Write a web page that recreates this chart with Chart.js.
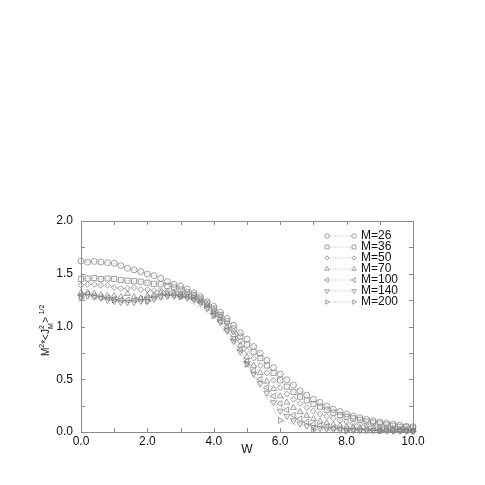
<!DOCTYPE html>
<html>
<head>
<meta charset="utf-8">
<script src="https://cdn.jsdelivr.net/npm/chart.js@4/dist/chart.umd.min.js"></script>
<style>
html,body{margin:0;padding:0;background:#fff;}
canvas{display:block;}
</style>
</head>
<body>
<canvas id="c" width="485" height="485"></canvas>
<script>
// ---- data ----
const W = [0,0.2,0.4,0.6,0.8,1.0,1.2,1.4,1.6,1.8,2.0,2.2,2.4,2.6,2.8,3.0,3.2,3.4,3.6,3.8,4.0,4.2,4.4,4.6,4.8,5.0,
           5.2,5.4,5.6,5.8,6.0,6.2,6.4,6.6,6.8,7.0,7.2,7.4,7.6,7.8,8.0,8.2,8.4,8.6,8.8,9.0,9.2,9.4,9.6,9.8,10.0];
const M26 = [1.62,1.61,1.617,1.611,1.604,1.599,1.577,1.551,1.536,1.52,1.498,1.482,1.457,1.425,1.40,1.384,1.355,1.32,1.283,1.235,1.19,1.135,1.075,1.01,0.94,0.88,
             0.81,0.745,0.68,0.61,0.55,0.495,0.445,0.39,0.35,0.31,0.28,0.245,0.215,0.195,0.17,0.15,0.135,0.12,0.105,0.095,0.085,0.075,0.065,0.055,0.05];
const M36 = [1.45,1.455,1.46,1.45,1.455,1.45,1.44,1.435,1.43,1.425,1.415,1.405,1.40,1.385,1.37,1.35,1.325,1.30,1.265,1.22,1.17,1.11,1.05,0.98,0.905,0.83,
             0.76,0.70,0.63,0.56,0.49,0.43,0.38,0.335,0.30,0.265,0.24,0.21,0.183,0.16,0.145,0.13,0.115,0.10,0.09,0.08,0.07,0.06,0.05,0.045,0.04];
const M50 = [1.39,1.40,1.40,1.39,1.39,1.37,1.36,1.36,1.37,1.35,1.35,1.34,1.34,1.33,1.33,1.32,1.31,1.29,1.255,1.21,1.16,1.10,1.03,0.95,0.86,0.77,
             0.70,0.63,0.56,0.49,0.42,0.36,0.31,0.27,0.23,0.20,0.17,0.15,0.13,0.11,0.095,0.08,0.07,0.06,0.05,0.045,0.04,0.035,0.03,0.025,0.02];
const M70 = [1.32,1.32,1.31,1.30,1.29,1.29,1.28,1.31,1.28,1.27,1.29,1.30,1.32,1.31,1.31,1.30,1.29,1.27,1.24,1.20,1.14,1.08,1.00,0.92,0.82,0.71,
             0.63,0.56,0.48,0.41,0.34,0.28,0.23,0.19,0.155,0.125,0.10,0.085,0.07,0.06,0.05,0.045,0.04,0.035,0.03,0.025,0.022,0.02,0.018,0.016,0.015];
const M100 = [1.30,1.31,1.29,1.28,1.27,1.26,1.25,1.25,1.25,1.26,1.27,1.28,1.29,1.30,1.30,1.29,1.28,1.26,1.23,1.18,1.12,1.05,0.97,0.88,0.78,0.67,
              0.58,0.50,0.42,0.34,0.27,0.21,0.16,0.125,0.095,0.075,0.06,0.05,0.04,0.035,0.03,0.025,0.022,0.02,0.018,0.016,0.014,0.013,0.012,0.011,0.01];
const M140 = [1.28,1.29,1.28,1.27,1.25,1.24,1.23,1.23,1.23,1.24,1.24,1.26,1.28,1.29,1.29,1.29,1.27,1.25,1.22,1.17,1.11,1.04,0.96,0.86,0.76,0.65,
              0.55,0.46,0.37,0.28,0.20,0.15,0.11,0.08,0.06,0.045,0.035,0.03,0.025,0.02,0.018,0.016,0.015,0.014,0.013,0.012,0.011,0.01,0.01,0.01,0.01];
const W200 = [0,1,2,3,4,5,6,7,8,9,10];
const M200 = [1.27,1.25,1.24,1.28,1.10,0.64,0.11,0.02,0.01,0.01,0.01];

const seriesLabels = ['M=26','M=36','M=50','M=70','M=100','M=140','M=200'];
const xTicks = [0,2,4,6,8,10];
const yTicks = [0,0.5,1.0,1.5,2.0];

// ---- styles ----
const markers = [
  {pointStyle:'circle', radius:3.0, rotation:0},
  {pointStyle:'rect', radius:3.6, rotation:0},
  {pointStyle:'rectRot', radius:2.9, rotation:0},
  {pointStyle:'triangle', radius:3.4, rotation:0},
  {pointStyle:'triangle', radius:3.4, rotation:-90},
  {pointStyle:'triangle', radius:3.4, rotation:180},
  {pointStyle:'triangle', radius:3.4, rotation:90}
];
const MARK = '#7a7a7a';
const LINE = '#9a9a9a';
const FONT = '"Liberation Sans", Arial, Helvetica, sans-serif';

function pts(xs, ys){ return xs.map((x,i)=>({x:x, y:ys[i]})); }
const allData = [pts(W,M26),pts(W,M36),pts(W,M50),pts(W,M70),pts(W,M100),pts(W,M140),pts(W200,M200)];

const datasets = allData.map((d,i)=>({
  label: seriesLabels[i],
  data: d,
  showLine: true,
  borderColor: LINE,
  borderWidth: 0.7,
  borderDash: [1,1.5],
  pointStyle: markers[i].pointStyle,
  pointRadius: markers[i].radius,
  pointRotation: markers[i].rotation,
  pointBorderColor: MARK,
  pointBackgroundColor: 'rgba(0,0,0,0)',
  pointBorderWidth: 0.7,
  clip: false,
  tension: 0
}));

const decor = {
  id:'decor',
  afterDraw(chart){
    const ctx = chart.ctx, a = chart.chartArea;
    const xs = chart.scales.x, ys = chart.scales.y;
    ctx.save();
    // frame
    ctx.strokeStyle = '#8a8a8a';
    ctx.lineWidth = 1;
    ctx.strokeRect(Math.round(a.left)+0.5, Math.round(a.top)+0.5, Math.round(a.right-a.left), Math.round(a.bottom-a.top));
    // inward ticks
    const tl = 4;
    ctx.beginPath();
    for (let v=0; v<=10; v+=1){
      const px = Math.round(xs.getPixelForValue(v))+0.5;
      ctx.moveTo(px, a.bottom); ctx.lineTo(px, a.bottom-tl);
      ctx.moveTo(px, a.top); ctx.lineTo(px, a.top+tl);
    }
    for (let k=0; k<=8; k++){
      const py = Math.round(ys.getPixelForValue(k*0.25))+0.5;
      ctx.moveTo(a.left, py); ctx.lineTo(a.left+tl, py);
      ctx.moveTo(a.right, py); ctx.lineTo(a.right-tl, py);
    }
    ctx.stroke();

    // legend
    const lx1 = a.left + 246, lx2 = a.left + 273, tx = a.left + 280;
    ctx.font = '12px ' + FONT;
    ctx.textBaseline = 'middle';
    ctx.textAlign = 'left';
    seriesLabels.forEach((lab,i)=>{
      const y = a.top + 15 + 11*i;
      ctx.save();
      ctx.strokeStyle = LINE; ctx.lineWidth = 0.7; ctx.setLineDash([1,1.5]);
      ctx.beginPath(); ctx.moveTo(lx1+3, y); ctx.lineTo(lx2-3, y); ctx.stroke();
      ctx.restore();
      ctx.save();
      ctx.strokeStyle = MARK; ctx.fillStyle = 'rgba(0,0,0,0)'; ctx.lineWidth = 0.7;
      const o = {pointStyle: markers[i].pointStyle, radius: markers[i].radius*0.75, rotation: markers[i].rotation, borderWidth: 0.7};
      Chart.helpers.drawPoint(ctx, o, lx1, y);
      Chart.helpers.drawPoint(ctx, o, lx2, y);
      ctx.restore();
      ctx.fillStyle = '#111';
      ctx.fillText(lab, tx, y);
    });

    // x title
    ctx.fillStyle = '#111';
    ctx.font = '12px ' + FONT;
    ctx.textAlign = 'center';
    ctx.textBaseline = 'middle';
    ctx.fillText('W', (a.left+a.right)/2, a.bottom + 18);

    // y title: M^2*<J_M^2>^{1/2}
    ctx.save();
    ctx.translate(48.5, 356);
    ctx.rotate(-Math.PI/2);
    ctx.textAlign = 'left';
    ctx.textBaseline = 'alphabetic';
    const big = '10px ' + FONT, small = '7px ' + FONT;
    let x = 0;
    function put(t, f, dy){ ctx.font = f; ctx.fillText(t, x, dy); return ctx.measureText(t).width; }
    x += put('M', big, 0);
    x += put('2', small, -5);
    x += put('*<J', big, 0);
    const w1 = put('M', small, 4);
    const w2 = put('2', small, -5);
    x += Math.max(w1, w2) + 0.5;
    x += put('>', big, 0) + 2.5;
    put('1/2', small, -5);
    ctx.restore();
    ctx.restore();
  }
};

new Chart(document.getElementById('c'), {
  type: 'scatter',
  data: { datasets },
  options: {
    responsive: false,
    animation: false,
    events: [],
    layout: { padding: { top: 221, right: 72, left: 0, bottom: 0 } },
    plugins: { legend: { display: false }, tooltip: { enabled: false } },
    scales: {
      x: {
        type: 'linear', min: 0, max: 10,
        afterBuildTicks(s){ s.ticks = xTicks.map(v=>({value:v})); },
        afterFit(s){ s.height = 53; },
        grid: { display: false, drawTicks: false },
        border: { display: false },
        ticks: { padding: 2, color: '#111', font: { family: FONT, size: 12 }, callback: v => v.toFixed(1), maxRotation: 0 }
      },
      y: {
        type: 'linear', min: 0, max: 2,
        afterBuildTicks(s){ s.ticks = yTicks.map(v=>({value:v})); },
        afterFit(s){ s.width = 81; },
        grid: { display: false, drawTicks: false },
        border: { display: false },
        ticks: { padding: 8, color: '#111', font: { family: FONT, size: 12 }, callback: v => v.toFixed(1) }
      }
    }
  },
  plugins: [decor]
});
</script>
</body>
</html>
